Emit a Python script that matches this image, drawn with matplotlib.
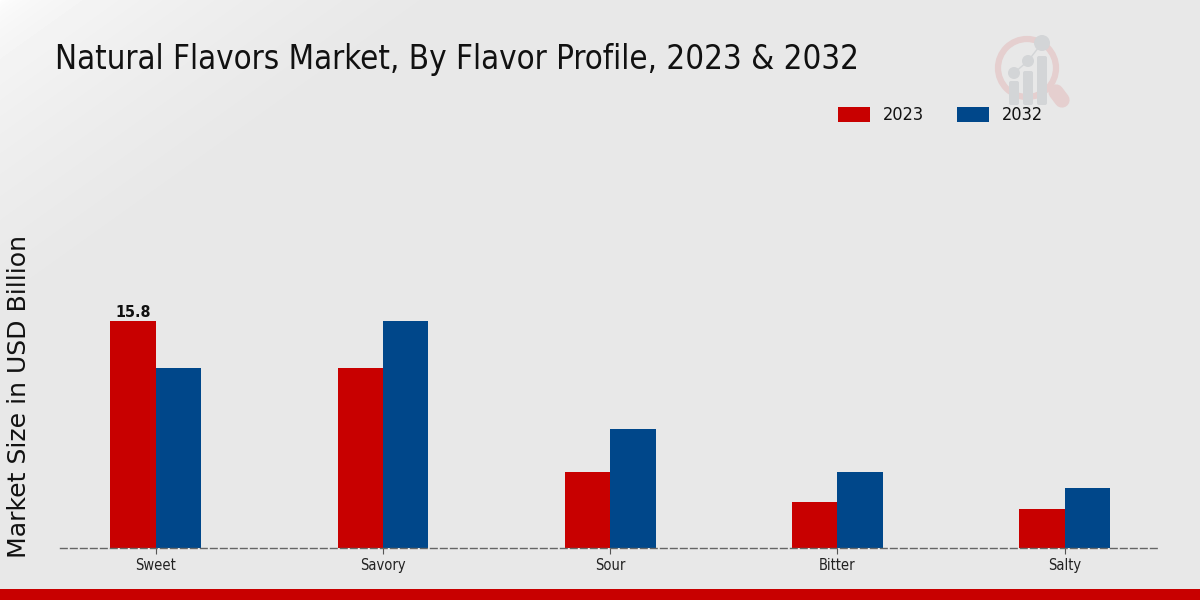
import matplotlib
matplotlib.use("Agg")
import matplotlib.pyplot as plt
import numpy as np
from matplotlib.patches import Circle, FancyBboxPatch, Rectangle

categories = ["Sweet", "Savory", "Sour", "Bitter", "Salty"]
values_2023 = [15.8, 12.5, 5.3, 3.2, 2.7]
values_2032 = [12.5, 15.8, 8.3, 5.3, 4.2]

RED = "#c80000"
BLUE = "#00478a"
LOGO_GREY = "#d3d5d7"
LOGO_RED = "#e5cfcf"
COND = dict(family="DejaVu Sans", stretch="condensed")

fig = plt.figure(figsize=(12, 6), dpi=100)

# background, white corner fading into grey
bg = fig.add_axes([0, 0, 1, 1], zorder=0)
h, w = 600, 1200
yy, xx = np.mgrid[0:h, 0:w]
d = np.clip(xx / 420 + yy / 300, 0, 1)
shade = 1.0 - (1.0 - 0.91) * d ** 0.45
bg.imshow(shade, cmap="gray", vmin=0, vmax=1, extent=(0, w, h, 0), aspect="auto")
bg.set_xlim(0, w)
bg.set_ylim(h, 0)
bg.axis("off")

# bottom strip
bg.add_patch(Rectangle((0, 589), 1200, 11, color=RED, lw=0))

# logo watermark
bg.add_patch(Circle((1027, 68), 29, fill=False, ec=LOGO_RED, lw=4.5))
bg.plot([1056, 1062], [92, 100], color=LOGO_RED, lw=11, solid_capstyle="round")
for bx, top, cy, r in [(1014, 81, 73, 6), (1028, 71, 61, 6), (1042, 56, 43, 8)]:
    bg.add_patch(FancyBboxPatch((bx - 3, top + 2), 6, 105 - top - 4, boxstyle="round,pad=2",
                                fc=LOGO_GREY, ec="none"))
    bg.add_patch(Circle((bx, cy), r, fc=LOGO_GREY, ec="none"))
bg.plot([1014, 1028, 1042], [73, 61, 43], color=LOGO_GREY, lw=1)

ax = fig.add_axes([60 / 1200, (600 - 548) / 600, 1100 / 1200, 300 / 600], zorder=1)
ax.patch.set_alpha(0)

x = np.arange(len(categories))
width = 0.2
ax.bar(x - width / 2, values_2023, width, color=RED, label="2023", lw=0)
ax.bar(x + width / 2, values_2032, width, color=BLUE, label="2032", lw=0)

ax.set_xlim(-0.422, 4.42)
ax.set_ylim(0, 300 / 14.37)
ax.set_xticks(x)
ax.set_xticklabels(categories, fontsize=10.5, color="#222222", **COND)
ax.tick_params(axis="x", length=4, color="#555555", pad=3)
ax.set_yticks([])

for side in ["top", "right", "left"]:
    ax.spines[side].set_visible(False)
ax.spines["bottom"].set_linestyle((0, (4.8, 2.4)))
ax.spines["bottom"].set_color("#666666")
ax.spines["bottom"].set_linewidth(1.0)

ax.text(x[0] - width / 2, values_2023[0] + 0.1, "15.8", ha="center", va="bottom",
        fontsize=11.5, fontweight="bold", color="#111111", **COND)

fig.text(55 / 1200, 1 - 59 / 600, "Natural Flavors Market, By Flavor Profile, 2023 & 2032",
         fontsize=23.7, color="#111111", va="center", ha="left", **COND)
fig.text(19 / 1200, 1 - 397 / 600, "Market Size in USD Billion", rotation=90, fontsize=18.1,
         color="#111111", va="center", ha="center")

# legend placed by hand to sit where the original does
fig.patches.append(Rectangle((838 / 1200, 1 - 122 / 600), 32 / 1200, 15 / 600, transform=fig.transFigure, color=RED, lw=0))
fig.patches.append(Rectangle((957 / 1200, 1 - 122 / 600), 32 / 1200, 15 / 600, transform=fig.transFigure, color=BLUE, lw=0))
fig.text(883 / 1200, 1 - 115 / 600, "2023", fontsize=13, va="center", color="#111111", **COND)
fig.text(1002 / 1200, 1 - 115 / 600, "2032", fontsize=13, va="center", color="#111111", **COND)

fig.savefig("out.png", dpi=100)
